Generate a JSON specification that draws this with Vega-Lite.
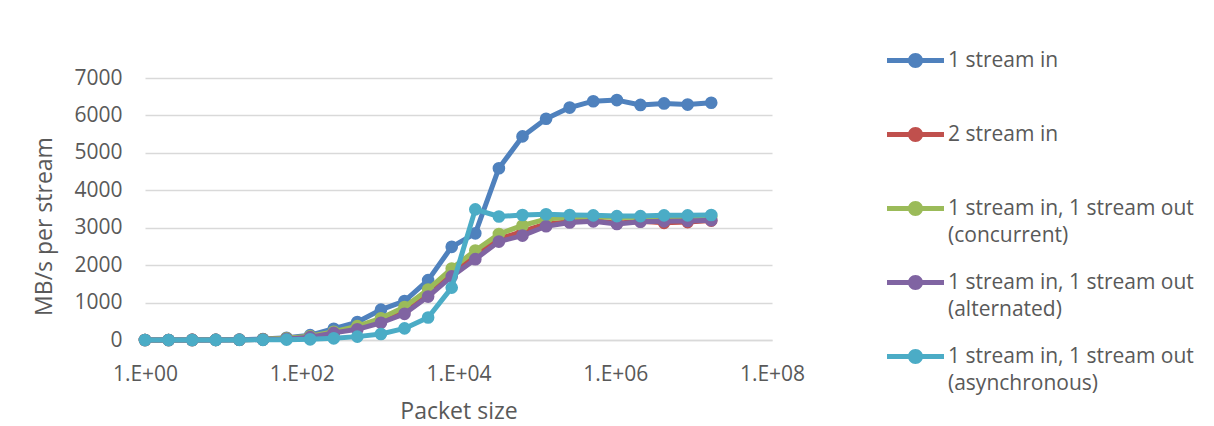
{
  "$schema": "https://vega.github.io/schema/vega-lite/v6.json",
  "width": 627,
  "height": 262,
  "autosize": {"type": "none"},
  "padding": {"left": 145, "top": 78, "right": 442, "bottom": 86},
  "background": "white",
  "config": {"view": {"stroke": null}, "font": "Open Sans"},
  "datasets": {
    "raw": [
      {"size":1,"s1":0,"s2":0,"s3":0,"s4":0,"s5":0},
      {"size":2,"s1":1,"s2":1,"s3":1,"s4":1,"s5":0},
      {"size":4,"s1":2,"s2":2,"s3":2,"s4":2,"s5":1},
      {"size":8,"s1":4,"s2":4,"s3":4,"s4":3,"s5":2},
      {"size":16,"s1":8,"s2":7,"s3":7,"s4":6,"s5":3},
      {"size":32,"s1":25,"s2":15,"s3":18,"s4":12,"s5":5},
      {"size":64,"s1":60,"s2":40,"s3":45,"s4":30,"s5":10},
      {"size":128,"s1":130,"s2":85,"s3":100,"s4":75,"s5":18},
      {"size":256,"s1":300,"s2":200,"s3":220,"s4":190,"s5":45},
      {"size":512,"s1":480,"s2":330,"s3":370,"s4":285,"s5":90},
      {"size":1024,"s1":810,"s2":520,"s3":580,"s4":460,"s5":160},
      {"size":2048,"s1":1040,"s2":790,"s3":880,"s4":700,"s5":310},
      {"size":4096,"s1":1600,"s2":1250,"s3":1350,"s4":1160,"s5":600},
      {"size":8192,"s1":2490,"s2":1800,"s3":1910,"s4":1700,"s5":1400},
      {"size":16384,"s1":2850,"s2":2270,"s3":2390,"s4":2160,"s5":3490},
      {"size":32768,"s1":4590,"s2":2700,"s3":2830,"s4":2630,"s5":3300},
      {"size":65536,"s1":5440,"s2":2900,"s3":3060,"s4":2790,"s5":3340},
      {"size":131072,"s1":5910,"s2":3100,"s3":3230,"s4":3040,"s5":3360},
      {"size":262144,"s1":6210,"s2":3160,"s3":3280,"s4":3140,"s5":3340},
      {"size":524288,"s1":6380,"s2":3190,"s3":3290,"s4":3170,"s5":3330},
      {"size":1048576,"s1":6410,"s2":3120,"s3":3270,"s4":3100,"s5":3310},
      {"size":2097152,"s1":6280,"s2":3170,"s3":3280,"s4":3160,"s5":3310},
      {"size":4194304,"s1":6320,"s2":3130,"s3":3290,"s4":3170,"s5":3330},
      {"size":8388608,"s1":6290,"s2":3150,"s3":3290,"s4":3180,"s5":3330},
      {"size":16777216,"s1":6340,"s2":3190,"s3":3300,"s4":3200,"s5":3340}
    ]
  },
  "data": {"name": "raw"},
  "transform": [
    {"fold": ["s1", "s2", "s3", "s4", "s5"], "as": ["key", "mbps"]},
    {"lookup": "key", "from": {"data": {"values": [
      {"key": "s1", "series": "1 stream in"},
      {"key": "s2", "series": "2 stream in"},
      {"key": "s3", "series": "1 stream in, 1 stream out (concurrent)"},
      {"key": "s4", "series": "1 stream in, 1 stream out (alternated)"},
      {"key": "s5", "series": "1 stream in, 1 stream out (asynchronous)"}
    ]}, "key": "key", "fields": ["series"]}}
  ],
  "encoding": {
    "x": {
      "field": "size", "type": "quantitative",
      "scale": {"type": "log", "domain": [1, 100000000], "nice": false},
      "axis": {
        "title": "Packet size",
        "values": [1, 100, 10000, 1000000, 100000000],
        "labelExpr": "'1.E+0' + format(log(datum.value)/LN10, '.0f')",
        "grid": false, "ticks": false,
        "domain": true, "domainColor": "#D9D9D9", "domainWidth": 1.5,
        "labelPadding": 23, "labelFontSize": 21, "labelColor": "#595959", "labelFont": "Open Sans",
        "labelFlush": false, "labelOverlap": false,
        "titleFont": "Open Sans", "titleFontSize": 23, "titleColor": "#595959", "titleFontWeight": "normal",
        "titleY": 78, "titleBaseline": "alphabetic"
      }
    },
    "y": {
      "field": "mbps", "type": "quantitative",
      "scale": {"domain": [0, 7000], "nice": false},
      "axis": {
        "title": "MB/s per stream",
        "values": [0, 1000, 2000, 3000, 4000, 5000, 6000, 7000],
        "format": "d",
        "grid": true, "gridColor": "#D9D9D9", "gridWidth": 1.5,
        "domain": false, "ticks": false,
        "labelPadding": 23, "labelFontSize": 21, "labelColor": "#595959", "labelFont": "Open Sans",
        "titleFont": "Open Sans", "titleFontSize": 23, "titleColor": "#595959", "titleFontWeight": "normal",
        "titleX": -94, "titleY": 148, "titleAngle": -90, "titleAlign": "center", "titleBaseline": "alphabetic"
      }
    },
    "color": {
      "field": "series", "type": "nominal",
      "scale": {
        "domain": ["1 stream in", "2 stream in", "1 stream in, 1 stream out (concurrent)", "1 stream in, 1 stream out (alternated)", "1 stream in, 1 stream out (asynchronous)"],
        "range": ["#4F81BD", "#C0504D", "#9BBB59", "#8064A2", "#4BACC6"]
      },
      "legend": {
        "orient": "none", "legendX": 760, "legendY": -28,
        "title": null, "padding": 0,
        "symbolType": "M-3.8,-0.333L3.8,-0.333L3.8,0.333L-3.8,0.333Z M-1,0A1,1 0 1,1 1,0A1,1 0 1,1 -1,0Z",
        "symbolSize": 225, "symbolStrokeWidth": 0,
        "labelFont": "Open Sans", "labelFontSize": 21, "labelColor": "#595959",
        "labelOffset": 22, "labelLimit": 400, "rowPadding": 25, "gridAlign": "all",
        "labelExpr": "indexof(datum.label, ' (') > 0 ? [slice(datum.label, 0, indexof(datum.label, ' (')), slice(datum.label, indexof(datum.label, ' (') + 1)] : [datum.label, '']",
        "encode": {
          "symbols": {"update": {"fill": {"scale": "color", "field": "value"}, "opacity": {"value": 1}}},
          "labels": {"update": {"lineHeight": {"value": 27}}}
        }
      }
    }
  },
  "layer": [
    {"transform": [{"filter": "datum.key === 's1'"}], "mark": {"type": "line", "strokeWidth": 5, "strokeJoin": "round", "strokeCap": "round", "point": {"filled": true, "size": 160, "opacity": 1}}},
    {"transform": [{"filter": "datum.key === 's2'"}], "mark": {"type": "line", "strokeWidth": 5, "strokeJoin": "round", "strokeCap": "round", "point": {"filled": true, "size": 160, "opacity": 1}}},
    {"transform": [{"filter": "datum.key === 's3'"}], "mark": {"type": "line", "strokeWidth": 5, "strokeJoin": "round", "strokeCap": "round", "point": {"filled": true, "size": 160, "opacity": 1}}},
    {"transform": [{"filter": "datum.key === 's4'"}], "mark": {"type": "line", "strokeWidth": 5, "strokeJoin": "round", "strokeCap": "round", "point": {"filled": true, "size": 160, "opacity": 1}}},
    {"transform": [{"filter": "datum.key === 's5'"}], "mark": {"type": "line", "strokeWidth": 5, "strokeJoin": "round", "strokeCap": "round", "point": {"filled": true, "size": 160, "opacity": 1}}}
  ]
}
